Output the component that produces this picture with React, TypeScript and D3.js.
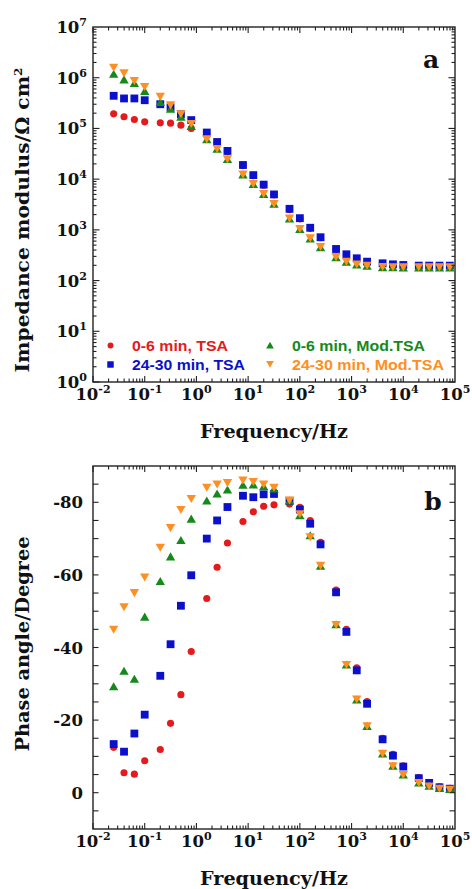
import React from "react";
import * as d3 from "d3";

// ---- data ----
const freqHz = [
  0.0251, 0.0398, 0.0631, 0.1, 0.2, 0.316, 0.501, 0.794, 1.585, 2.512, 3.981, 7.943,
  12.59, 19.95, 31.62, 63.1, 100, 158.5, 251.2, 501.2, 794.3, 1259, 1995, 3981, 6310,
  10000, 19950, 31620, 50120, 79430,
];

const zRedTSA06 = [
  1.94e5, 1.7e5, 1.5e5, 1.35e5, 1.29e5, 1.27e5, 1.16e5, 1.0e5, 8.0e4, 5.2e4, 3.5e4, 1.85e4,
  1.17e4, 7.6e3, 4.9e3, 2.5e3, 1.65e3, 1.07e3, 700, 410, 322, 268, 230, 214, 204, 198, 192, 192, 192, 192,
];
const zBlueTSA2430 = [
  4.4e5, 3.9e5, 3.9e5, 3.6e5, 3.0e5, 2.6e5, 1.9e5, 1.46e5, 8.3e4, 5.4e4, 3.6e4, 1.9e4,
  1.2e4, 7.8e3, 5.0e3, 2.6e3, 1.7e3, 1.1e3, 715, 420, 330, 275, 236, 219, 209, 203, 197, 197, 197, 197,
];
const zGreenMod06 = [
  1.18e6, 9.1e5, 7.7e5, 5.4e5, 3.25e5, 2.4e5, 1.67e5, 1.1e5, 6.0e4, 3.9e4, 2.45e4, 1.22e4,
  7.9e3, 5.0e3, 3.2e3, 1.64e3, 1.02e3, 665, 448, 284, 231, 204, 192, 181, 180, 179, 179, 179, 179, 179,
];
const zOrangeMod2430 = [
  1.6e6, 1.24e6, 8.8e5, 6.7e5, 4.3e5, 2.9e5, 1.94e5, 1.25e5, 6.2e4, 4.0e4, 2.5e4, 1.26e4,
  8.2e3, 5.2e3, 3.3e3, 1.7e3, 1.06e3, 692, 466, 295, 240, 212, 200, 188, 187, 186, 186, 186, 186, 186,
];

const phRedTSA06 = [
  -12.5, -5.5, -5.1, -8.8, -11.9, -19.1, -27.0, -38.9, -53.5, -62.1, -68.8, -74.7, -77.4, -78.9, -79.3,
  -79.5, -78.6, -75.0, -69.0, -55.8, -45.0, -34.4, -25.1, -15.0, -10.6, -7.4, -4.2, -2.8, -1.6, -1.2,
];
const phBlueTSA2430 = [
  -13.4, -11.3, -16.3, -21.5, -32.2, -40.9, -51.5, -59.9, -70.0, -75.0, -78.7, -81.8, -81.4, -82.2, -82.3,
  -80.4, -78.0, -74.1, -68.4, -55.2, -44.3, -33.7, -24.5, -14.7, -10.2, -7.2, -4.0, -2.7, -1.5, -1.1,
];
const phGreenMod06 = [
  -29.2, -33.5, -31.3, -48.4, -58.2, -65.0, -69.5, -75.4, -80.4, -82.3, -83.4, -84.7, -84.8, -84.3, -83.7,
  -80.4, -76.3, -70.8, -62.4, -46.3, -35.2, -25.6, -18.3, -10.7, -7.3, -4.9, -2.7, -1.8, -1.2, -0.9,
];
const phOrangeMod2430 = [
  -45.0, -51.2, -55.1, -59.4, -67.6, -73.0, -78.0, -81.0, -84.1, -85.0, -85.4, -86.1, -85.7, -85.0, -84.1,
  -80.6, -76.8, -70.5, -62.6, -46.3, -35.3, -25.8, -18.4, -10.8, -7.4, -5.0, -2.8, -1.8, -1.2, -0.9,
];

const seriesNames = ["0-6 min, TSA", "24-30 min, TSA", "0-6 min, Mod.TSA", "24-30 min, Mod.TSA"];
const seriesColors = ["#e41a1c", "#0a10cc", "#15891a", "#ff8f22"];
const seriesShapes = ["circle", "square", "triUp", "triDown"];
const xTickExps = [-2, -1, 0, 1, 2, 3, 4, 5];
const zTickExps = [0, 1, 2, 3, 4, 5, 6, 7];
const phaseTickLabels = [0, -20, -40, -60, -80];

const zSeries = [zRedTSA06, zBlueTSA2430, zGreenMod06, zOrangeMod2430];
const phSeries = [phRedTSA06, phBlueTSA2430, phGreenMod06, phOrangeMod2430];

// ---- layout ----
const W = 472;
const H = 889;
const L = 93;
const R = 455;
const aTop = 27;
const aBot = 382;
const bTop = 466;
const bBot = 829;
const SERIF = "'DejaVu Serif', serif";
const SANS = "'Liberation Sans', Arial, sans-serif";
const AX = "#222";

function Marker({ shape, x, y, s, color }: { shape: string; x: number; y: number; s: number; color: string }) {
  if (shape === "circle") return <circle cx={x} cy={y} r={s * 0.42} fill={color} />;
  if (shape === "square") return <rect x={x - s * 0.46} y={y - s * 0.46} width={s * 0.92} height={s * 0.92} fill={color} />;
  const h = s * 0.95;
  const w = s * 0.55;
  if (shape === "triUp")
    return <path d={`M${x},${y - h * 0.55}L${x + w},${y + h * 0.45}L${x - w},${y + h * 0.45}Z`} fill={color} />;
  return <path d={`M${x},${y + h * 0.55}L${x + w},${y - h * 0.45}L${x - w},${y - h * 0.45}Z`} fill={color} />;
}

function Pow({ x, y, exp, anchor }: { x: number; y: number; exp: number; anchor: string }) {
  return (
    <text x={x} y={y} textAnchor={anchor} fontFamily={SERIF} fontWeight="bold" fontSize={16.5} fill="#111">
      10
      <tspan dy={-7} fontSize={11}>
        {exp < 0 ? "-" + Math.abs(exp) : String(exp)}
      </tspan>
    </text>
  );
}

function LogXAxis({ x, top, bot }: { x: d3.ScaleLogarithmic<number, number>; top: number; bot: number }) {
  const els: React.ReactNode[] = [];
  for (let e = -2; e <= 4; e++) {
    for (let m = 1; m <= 9; m++) {
      const v = m * Math.pow(10, e);
      const px = x(v);
      const len = m === 1 ? 6 : 3.5;
      els.push(<line key={`b${e}${m}`} x1={px} x2={px} y1={bot} y2={bot - len} stroke={AX} strokeWidth={1.1} />);
      els.push(<line key={`t${e}${m}`} x1={px} x2={px} y1={top} y2={top + len} stroke={AX} strokeWidth={1.1} />);
    }
  }
  xTickExps.forEach((e) => {
    els.push(<Pow key={`l${e}`} x={x(Math.pow(10, e))} y={bot + 18} exp={e} anchor="middle" />);
  });
  return <g>{els}</g>;
}

export default function App() {
  const x = d3.scaleLog().domain([1e-2, 1e5]).range([L, R]);
  const yA = d3.scaleLog().domain([1, 1e7]).range([aBot, aTop]);
  const yB = d3.scaleLinear().domain([10, -90]).range([bBot, bTop]);

  const yAticks: React.ReactNode[] = [];
  for (let e = 0; e < 7; e++) {
    for (let m = 1; m <= 9; m++) {
      const py = yA(m * Math.pow(10, e));
      const len = m === 1 ? 6.5 : 3.5;
      yAticks.push(<line key={`l${e}${m}`} x1={L} x2={L + len} y1={py} y2={py} stroke={AX} strokeWidth={1.1} />);
      yAticks.push(<line key={`r${e}${m}`} x1={R} x2={R - len} y1={py} y2={py} stroke={AX} strokeWidth={1.1} />);
    }
  }

  const yBticks: React.ReactNode[] = [];
  for (let v = -85; v <= 5; v += 5) {
    const py = yB(v);
    yBticks.push(<line key={`l${v}`} x1={L} x2={L + 5.5} y1={py} y2={py} stroke={AX} strokeWidth={1.1} />);
    yBticks.push(<line key={`r${v}`} x1={R} x2={R - 5.5} y1={py} y2={py} stroke={AX} strokeWidth={1.1} />);
  }

  const legendRows = [
    { i: 0, mx: 110.5, tx: 132, y: 345.5, tl: 96 },
    { i: 1, mx: 110.5, tx: 132, y: 364.5, tl: 113 },
    { i: 2, mx: 270, tx: 292, y: 345.5, tl: 133 },
    { i: 3, mx: 270, tx: 292, y: 364, tl: 152 },
  ];

  return (
    <svg width={W} height={H} style={{ position: "absolute", left: 0, top: 0, background: "#fff" }}>
      {/* Panel a */}
      <g>
        {zSeries.map((vals, si) => (
          <g key={`za${si}`}>
            {vals.map((v, k) => (
              <Marker key={k} shape={seriesShapes[si]} x={x(freqHz[k])} y={yA(v)} s={8.5} color={seriesColors[si]} />
            ))}
          </g>
        ))}
        <rect x={L} y={aTop} width={R - L} height={aBot - aTop} fill="none" stroke={AX} strokeWidth={1.4} />
        {yAticks}
        <LogXAxis x={x} top={aTop} bot={aBot} />
        {zTickExps.map((e) => (
          <Pow key={`ya${e}`} x={87} y={yA(Math.pow(10, e)) + 6} exp={e} anchor="end" />
        ))}
        {legendRows.map((r) => (
          <g key={`lg${r.i}`}>
            <Marker shape={seriesShapes[r.i]} x={r.mx} y={r.y} s={7} color={seriesColors[r.i]} />
            <text
              x={r.tx}
              y={r.y + 5.5}
              fontFamily={SANS}
              fontWeight="bold"
              fontSize={15.5}
              fill={seriesColors[r.i]}
              textLength={r.tl}
              lengthAdjust="spacingAndGlyphs"
            >
              {seriesNames[r.i]}
            </text>
          </g>
        ))}
        <text x={431} y={68} textAnchor="middle" fontFamily={SERIF} fontWeight="bold" fontSize={25} fill="#111">
          a
        </text>
        <text
          x={274}
          y={438}
          textAnchor="middle"
          fontFamily={SERIF}
          fontWeight="bold"
          fontSize={18.5}
          fill="#111"
          textLength={148}
          lengthAdjust="spacingAndGlyphs"
        >
          Frequency/Hz
        </text>
        <text
          transform="translate(29,220) rotate(-90)"
          textAnchor="middle"
          fontFamily={SERIF}
          fontWeight="bold"
          fontSize={18.5}
          fill="#111"
          textLength={305}
          lengthAdjust="spacingAndGlyphs"
        >
          Impedance modulus/Ω cm
          <tspan dy={-7} fontSize={11}>
            2
          </tspan>
        </text>
      </g>

      {/* Panel b */}
      <g>
        {phSeries.map((vals, si) => (
          <g key={`pb${si}`}>
            {vals.map((v, k) => (
              <Marker key={k} shape={seriesShapes[si]} x={x(freqHz[k])} y={yB(v)} s={8.5} color={seriesColors[si]} />
            ))}
          </g>
        ))}
        <rect x={L} y={bTop} width={R - L} height={bBot - bTop} fill="none" stroke={AX} strokeWidth={1.4} />
        {yBticks}
        <LogXAxis x={x} top={bTop} bot={bBot} />
        {phaseTickLabels.map((v) => (
          <text key={`yb${v}`} x={83} y={yB(v) + 6} textAnchor="end" fontFamily={SERIF} fontWeight="bold" fontSize={16.5} fill="#111">
            {v}
          </text>
        ))}
        <text x={433} y={510} textAnchor="middle" fontFamily={SERIF} fontWeight="bold" fontSize={25} fill="#111">
          b
        </text>
        <text
          x={274}
          y={885}
          textAnchor="middle"
          fontFamily={SERIF}
          fontWeight="bold"
          fontSize={18.5}
          fill="#111"
          textLength={148}
          lengthAdjust="spacingAndGlyphs"
        >
          Frequency/Hz
        </text>
        <text
          transform="translate(29,644) rotate(-90)"
          textAnchor="middle"
          fontFamily={SERIF}
          fontWeight="bold"
          fontSize={18.5}
          fill="#111"
          textLength={215}
          lengthAdjust="spacingAndGlyphs"
        >
          Phase angle/Degree
        </text>
      </g>
    </svg>
  );
}
